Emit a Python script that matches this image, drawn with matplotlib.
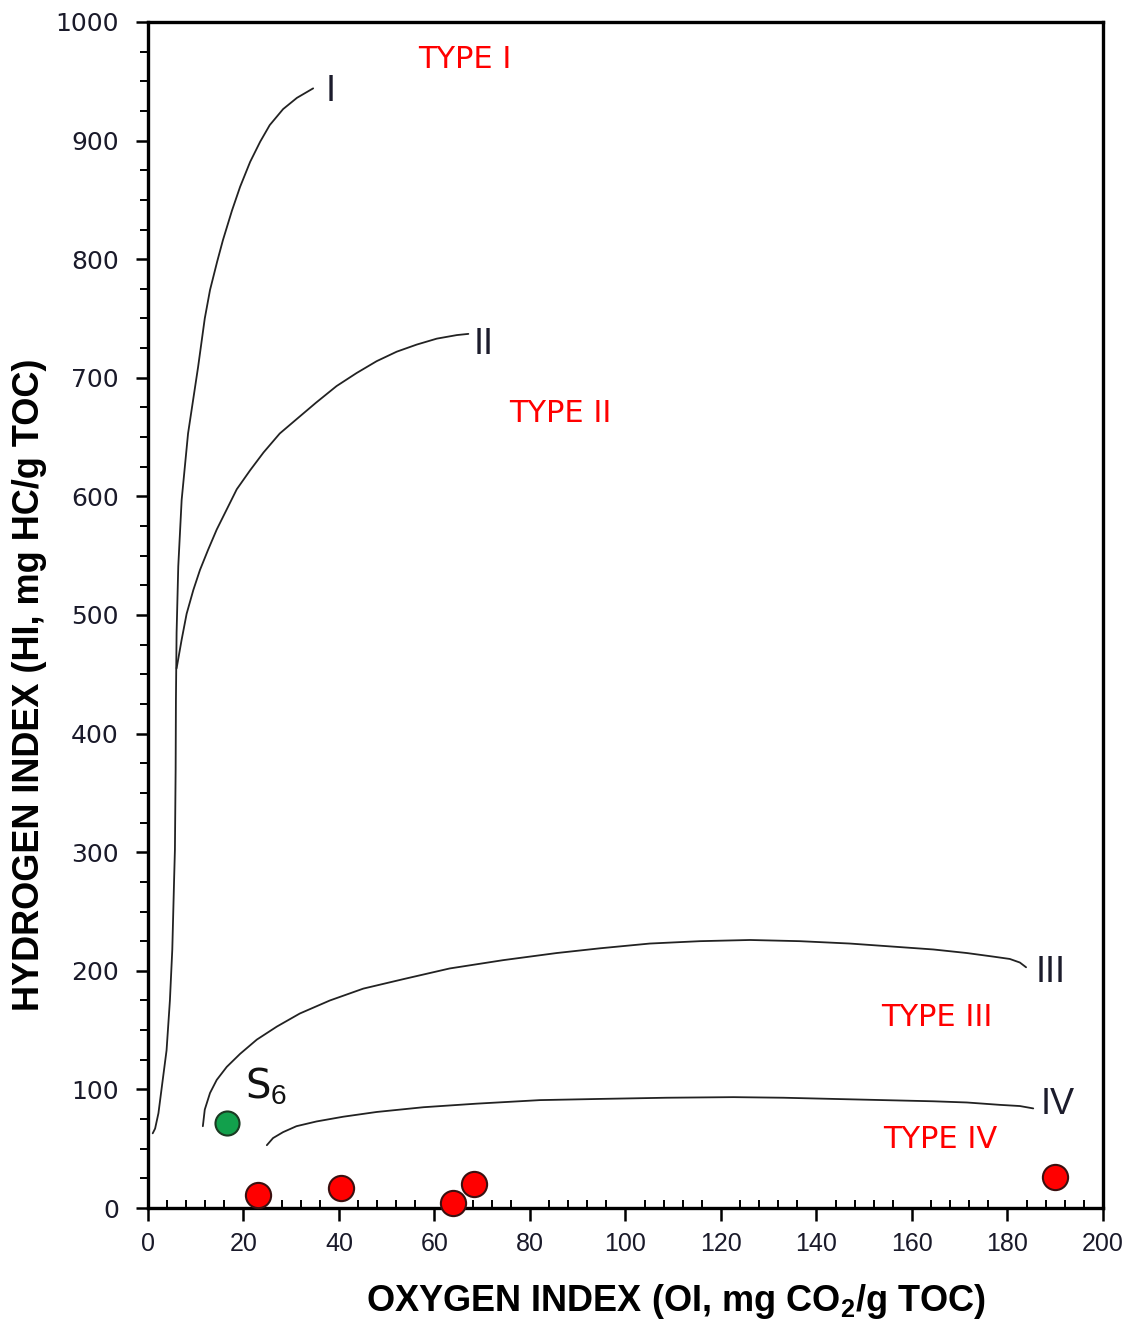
import matplotlib.pyplot as plt
from matplotlib.ticker import MultipleLocator

plt.rcParams["mathtext.fontset"] = "custom"
plt.rcParams["mathtext.rm"] = "Liberation Sans"
plt.rcParams["mathtext.bf"] = "Liberation Sans:bold"

# --- Kerogen type reference curves ---
type1_oi = [1.0, 1.5, 2.2, 3.0, 3.9, 4.6, 5.1, 5.5, 5.65, 5.8, 5.86, 6.0, 6.35, 7.06, 8.4, 10.5,
            11.9, 13.0, 14.5, 15.7, 17.6, 19.3, 21.4, 23.5, 25.5, 28.3, 31.2, 34.6]
type1_hi = [63, 67, 80, 105, 133, 175, 218, 280, 302, 370, 428, 485, 541, 597, 653, 709,
            750, 774, 798, 816, 841, 861, 882, 899, 913, 926.5, 936, 944]

type2_oi = [6.0, 7.05, 8.1, 9.5, 10.9, 12.6, 14.4, 16.5, 18.6, 21.4, 24.2, 27.6, 31.1, 35.2,
            39.5, 43.7, 47.9, 52.1, 56.3, 60.5, 64.7, 67.1]
type2_hi = [455, 479, 501, 521, 538, 555, 572, 589, 606, 622, 637, 653, 665, 679,
            693, 704, 714, 722, 728, 733, 736, 737]

type3_oi = [11.5, 11.9, 13.0, 14.4, 16.5, 19.3, 22.8, 27.0, 31.8, 38.1, 45.1, 53.5, 63.2, 74.4,
            85.6, 94.7, 105.1, 115.6, 126.1, 136.5, 147.0, 157.5, 164.5, 171.5, 177.0, 180.5, 182.6, 183.9]
type3_hi = [69, 83, 97, 108, 119, 130, 142, 153, 164, 175, 185, 193, 202, 209,
            215, 219, 223, 225, 226, 225, 223, 220, 218, 215, 212, 210, 207, 203]

type4_oi = [24.9, 26.2, 28.3, 31.1, 35.3, 40.9, 47.9, 57.7, 68.8, 82.1, 94.7, 108.6, 122.6,
            133.1, 143.5, 154.0, 164.5, 171.5, 178.4, 182.6, 185.4]
type4_hi = [53, 59, 64, 69, 73, 77, 81, 85, 88, 91, 92, 93, 93.5,
            93, 92, 91, 90, 89, 87, 86, 84]

# --- Samples ---
red_oi = [23.0, 40.4, 63.9, 68.3, 190.0]
red_hi = [11, 17, 4, 20, 26]
green_oi = [16.5]
green_hi = [72]

fig = plt.figure(figsize=(11.38, 13.22), dpi=100)
ax = fig.add_axes([0.130, 0.0862, 0.8392, 0.8972])

for xs, ys in [(type1_oi, type1_hi), (type2_oi, type2_hi), (type3_oi, type3_hi), (type4_oi, type4_hi)]:
    ax.plot(xs, ys, color="#222222", linewidth=1.3, solid_capstyle="round", solid_joinstyle="round")

ax.scatter(red_oi, red_hi, s=330, color="#ff0000", edgecolor="#3a1010", linewidth=1.5, zorder=5, clip_on=False)
ax.scatter(green_oi, green_hi, s=300, color="#12a04c", edgecolor="#1b3a22", linewidth=1.5, zorder=5)

# curve labels
curve_font = dict(fontsize=26, color="#1c1c2c", family="Liberation Sans", ha="center", va="center")
ax.text(38.3, 941, "I", **curve_font)
ax.text(70.2, 728, "II", **curve_font)
ax.text(189.0, 199, "III", **curve_font)
ax.text(190.5, 87, "IV", **curve_font)

type_font = dict(fontsize=22, color="#ff0000", ha="center", va="center")
ax.text(66.4, 968, "TYPE I", **type_font)
ax.text(86.3, 670, "TYPE II", **type_font)
ax.text(165.2, 161, "TYPE III", **type_font)
ax.text(165.9, 58, "TYPE IV", **type_font)

ax.text(20.3, 102, r"S$_6$", fontsize=29, color="#111111", ha="left", va="center")

ax.set_xlim(0, 200)
ax.set_ylim(0, 1000)
ax.xaxis.set_major_locator(MultipleLocator(20))
ax.xaxis.set_minor_locator(MultipleLocator(4))
ax.yaxis.set_major_locator(MultipleLocator(100))
ax.yaxis.set_minor_locator(MultipleLocator(25))

ax.tick_params(axis="x", which="major", direction="out", length=9, width=1.8, pad=8)
ax.tick_params(axis="x", which="minor", direction="in", length=6, width=1.4)
ax.tick_params(axis="y", which="major", direction="out", length=9, width=1.8, pad=12)
ax.tick_params(axis="y", which="minor", direction="out", length=6, width=1.4)
ax.tick_params(top=False, right=False)

for lbl in ax.get_xticklabels():
    lbl.set_fontfamily("Liberation Sans")
    lbl.set_fontsize(18)
    lbl.set_color("#1a1a2a")
for lbl in ax.get_yticklabels():
    lbl.set_fontfamily("DejaVu Sans")
    lbl.set_fontsize(18)
    lbl.set_color("#1a1a2a")

for sp in ax.spines.values():
    sp.set_linewidth(2.4)

ax.set_xlabel(r"OXYGEN INDEX (OI, mg CO$_\mathbf{2}$/g TOC)", fontsize=26, fontweight="bold",
              family="Liberation Sans")
ax.set_ylabel("HYDROGEN INDEX (HI, mg HC/g TOC)", fontsize=26, fontweight="bold",
              family="Liberation Sans")
ax.xaxis.set_label_coords(0.553, -0.062)
ax.yaxis.set_label_coords(-0.106, 0.441)

fig.savefig("out.png", dpi=100)
